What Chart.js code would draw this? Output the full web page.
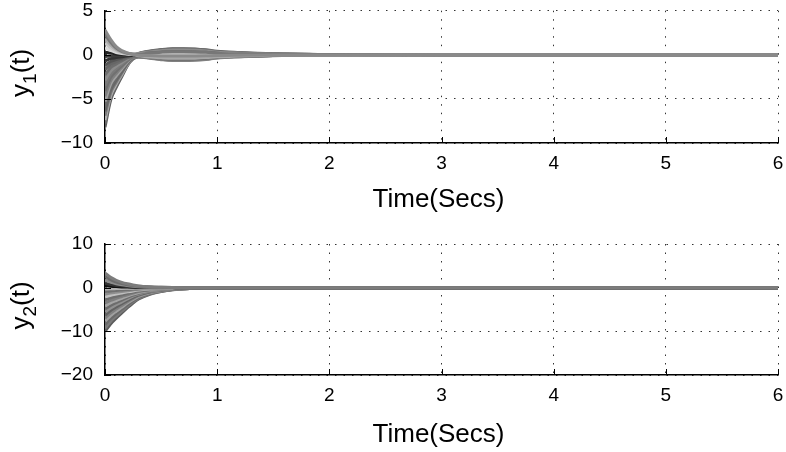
<!DOCTYPE html>
<html>
<head>
<meta charset="utf-8">
<script src="https://cdn.jsdelivr.net/npm/chart.js@4"></script>
<style>
  html, body { margin: 0; padding: 0; background: #fff; }
  .box { position: absolute; left: 0; width: 786px; height: 226px; }
  #top_box { top: 0; }
  #bottom_box { top: 226px; }
</style>
</head>
<body>
<div class="box" id="top_box"><canvas id="grafico_y1"></canvas></div>
<div class="box" id="bottom_box"><canvas id="grafico_y2"></canvas></div>
<script>
// time samples (secs), shared by every trajectory
var tempos = [0, 0.05, 0.1, 0.15, 0.2, 0.25, 0.3, 0.4, 0.5, 0.6, 0.7, 0.8, 0.9, 1.0, 1.2, 1.5, 2, 3, 6];

var ticks_x = [0, 1, 2, 3, 4, 5, 6];
var ticks_y1 = [5, 0, -5, -10];
var ticks_y2 = [10, 0, -10, -20];

// y1(t) trajectories
var y1_01 = [2.8, 1.74, 0.92, 0.48, 0.22, 0.07, -0.05, -0.09, -0.13, -0.15, -0.15, -0.14, -0.12, -0.08, -0.05, -0.02, -0.01, 0, 0];
var y1_02 = [2.3, 1.43, 0.76, 0.39, 0.18, 0.1, 0.1, 0.21, 0.3, 0.35, 0.35, 0.33, 0.28, 0.19, 0.12, 0.05, 0.02, 0, 0];
var y1_03 = [1.8, 1.12, 0.59, 0.31, 0.14, 0.01, -0.12, -0.24, -0.34, -0.4, -0.4, -0.38, -0.32, -0.22, -0.14, -0.06, -0.02, 0, 0];
var y1_04 = [1.3, 0.81, 0.43, 0.22, 0.1, 0.05, 0.05, 0.09, 0.13, 0.15, 0.15, 0.14, 0.12, 0.08, 0.05, 0.02, 0.01, 0, 0];
var y1_05 = [0.8, 0.5, 0.26, 0.14, 0.08, 0.04, 0.06, 0.12, 0.17, 0.2, 0.2, 0.19, 0.16, 0.11, 0.07, 0.03, 0.01, 0, 0];
var y1_06 = [0.3, 0.19, 0.1, 0.05, 0.01, -0.02, -0.08, -0.15, -0.21, -0.25, -0.25, -0.24, -0.2, -0.14, -0.09, -0.04, -0.01, 0, 0];
var y1_07 = [-0.2, -0.13, -0.09, -0.06, -0.03, 0, 0.01, 0.03, 0.04, 0.05, 0.05, 0.05, 0.04, 0.03, 0.02, 0.01, 0, 0, 0];
var y1_08 = [-0.7, -0.44, -0.32, -0.21, -0.11, -0.06, -0.07, -0.12, -0.17, -0.2, -0.2, -0.19, -0.16, -0.11, -0.07, -0.03, -0.01, 0, 0];
var y1_09 = [-1.2, -0.76, -0.54, -0.36, -0.18, -0.05, 0.03, 0.09, 0.13, 0.15, 0.15, 0.14, 0.12, 0.08, 0.05, 0.02, 0.01, 0, 0];
var y1_10 = [-1.7, -1.07, -0.77, -0.51, -0.26, -0.06, 0.09, 0.21, 0.3, 0.35, 0.35, 0.33, 0.28, 0.19, 0.12, 0.05, 0.02, 0, 0];
var y1_11 = [-2.3, -1.45, -1.04, -0.69, -0.35, -0.18, -0.17, -0.3, -0.43, -0.5, -0.5, -0.48, -0.4, -0.28, -0.18, -0.08, -0.03, 0, 0];
var y1_12 = [-2.9, -1.83, -1.31, -0.87, -0.44, -0.1, 0.14, 0.33, 0.47, 0.55, 0.55, 0.52, 0.44, 0.3, 0.19, 0.08, 0.03, 0, 0];
var y1_13 = [-3.5, -2.21, -1.58, -1.05, -0.53, -0.22, -0.13, -0.18, -0.26, -0.3, -0.3, -0.29, -0.24, -0.17, -0.11, -0.05, -0.02, 0, 0];
var y1_14 = [-4.1, -2.58, -1.85, -1.23, -0.62, -0.17, 0.14, 0.36, 0.51, 0.6, 0.6, 0.57, 0.48, 0.33, 0.21, 0.09, 0.03, 0, 0];
var y1_15 = [-4.7, -2.96, -2.12, -1.41, -0.71, -0.32, -0.24, -0.39, -0.55, -0.65, -0.65, -0.62, -0.52, -0.36, -0.23, -0.1, -0.03, 0, 0];
var y1_16 = [-5.3, -3.34, -2.39, -1.59, -0.8, -0.26, 0.04, 0.18, 0.26, 0.3, 0.3, 0.29, 0.24, 0.17, 0.11, 0.05, 0.02, 0, 0];
var y1_17 = [-5.9, -3.72, -2.66, -1.77, -0.89, -0.25, 0.15, 0.42, 0.6, 0.7, 0.7, 0.67, 0.56, 0.39, 0.25, 0.11, 0.04, 0, 0];
var y1_18 = [-6.4, -4.03, -2.88, -1.92, -0.96, -0.41, -0.24, -0.36, -0.51, -0.6, -0.6, -0.57, -0.48, -0.33, -0.21, -0.09, -0.03, 0, 0];
var y1_19 = [-6.9, -4.35, -3.11, -2.07, -1.04, -0.33, 0.08, 0.3, 0.43, 0.5, 0.5, 0.48, 0.4, 0.28, 0.18, 0.08, 0.03, 0, 0];
var y1_20 = [-7.4, -4.66, -3.33, -2.22, -1.11, -0.4, -0.04, 0.06, 0.09, 0.1, 0.1, 0.1, 0.08, 0.06, 0.04, 0.02, 0.01, 0, 0];
var y1_21 = [-7.8, -4.91, -3.51, -2.34, -1.17, -0.47, -0.21, -0.27, -0.38, -0.45, -0.45, -0.43, -0.36, -0.25, -0.16, -0.07, -0.02, 0, 0];
var y1_22 = [-8.2, -5.17, -3.69, -2.46, -1.23, -0.39, 0.11, 0.39, 0.55, 0.65, 0.65, 0.62, 0.52, 0.36, 0.23, 0.1, 0.03, 0, 0];

// y2(t) trajectories
var y2_01 = [3.4, 2.38, 1.7, 1.22, 0.88, 0.61, 0.41, 0.2, 0.1, 0.03, 0, 0, 0, 0, 0, 0, 0, 0, 0];
var y2_02 = [2.6, 1.82, 1.3, 0.94, 0.68, 0.47, 0.31, 0.16, 0.08, 0.03, 0, 0, 0, 0, 0, 0, 0, 0, 0];
var y2_03 = [1.8, 1.26, 0.9, 0.65, 0.47, 0.32, 0.22, 0.11, 0.05, 0.02, 0, 0, 0, 0, 0, 0, 0, 0, 0];
var y2_04 = [1.0, 0.7, 0.5, 0.36, 0.26, 0.18, 0.12, 0.06, 0.03, 0.01, 0, 0, 0, 0, 0, 0, 0, 0, 0];
var y2_05 = [0.5, 0.35, 0.25, 0.18, 0.13, 0.09, 0.06, 0.03, 0.02, 0.01, 0, 0, 0, 0, 0, 0, 0, 0, 0];
var y2_06 = [-0.3, -0.25, -0.21, -0.17, -0.14, -0.11, -0.08, -0.05, -0.03, -0.02, -0.01, 0, 0, 0, 0, 0, 0, 0, 0];
var y2_07 = [-0.9, -0.75, -0.63, -0.52, -0.41, -0.32, -0.23, -0.14, -0.08, -0.05, -0.03, -0.01, -0.01, 0, 0, 0, 0, 0, 0];
var y2_08 = [-1.5, -1.25, -1.05, -0.87, -0.69, -0.53, -0.39, -0.23, -0.14, -0.08, -0.05, -0.02, -0.01, -0.01, 0, 0, 0, 0, 0];
var y2_09 = [-2.1, -1.74, -1.47, -1.22, -0.97, -0.74, -0.55, -0.32, -0.19, -0.11, -0.06, -0.03, -0.02, -0.01, 0, 0, 0, 0, 0];
var y2_10 = [-2.8, -2.32, -1.96, -1.62, -1.29, -0.98, -0.73, -0.42, -0.25, -0.14, -0.08, -0.04, -0.02, -0.01, 0, 0, 0, 0, 0];
var y2_11 = [-3.5, -2.91, -2.45, -2.03, -1.61, -1.23, -0.91, -0.53, -0.32, -0.18, -0.11, -0.05, -0.03, -0.01, 0, 0, 0, 0, 0];
var y2_12 = [-4.2, -3.49, -2.94, -2.44, -1.93, -1.47, -1.09, -0.63, -0.38, -0.21, -0.13, -0.06, -0.03, -0.02, 0, 0, 0, 0, 0];
var y2_13 = [-4.9, -4.07, -3.43, -2.84, -2.25, -1.72, -1.27, -0.74, -0.44, -0.25, -0.15, -0.07, -0.04, -0.02, 0, 0, 0, 0, 0];
var y2_14 = [-5.6, -4.65, -3.92, -3.25, -2.58, -1.96, -1.46, -0.84, -0.5, -0.28, -0.17, -0.08, -0.04, -0.02, 0, 0, 0, 0, 0];
var y2_15 = [-6.3, -5.23, -4.41, -3.65, -2.9, -2.21, -1.64, -0.95, -0.57, -0.32, -0.19, -0.09, -0.05, -0.03, 0, 0, 0, 0, 0];
var y2_16 = [-7.0, -5.81, -4.9, -4.06, -3.22, -2.45, -1.82, -1.05, -0.63, -0.35, -0.21, -0.11, -0.06, -0.03, 0, 0, 0, 0, 0];
var y2_17 = [-7.7, -6.39, -5.39, -4.47, -3.54, -2.7, -2.0, -1.16, -0.69, -0.39, -0.23, -0.12, -0.06, -0.03, 0, 0, 0, 0, 0];
var y2_18 = [-8.5, -7.06, -5.95, -4.93, -3.91, -2.98, -2.21, -1.28, -0.77, -0.43, -0.26, -0.13, -0.07, -0.03, 0, 0, 0, 0, 0];
var y2_19 = [-9.3, -7.72, -6.51, -5.39, -4.28, -3.26, -2.42, -1.4, -0.84, -0.47, -0.28, -0.14, -0.07, -0.04, 0, 0, 0, 0, 0];
var y2_20 = [-10, -8.3, -7.0, -5.8, -4.6, -3.5, -2.6, -1.5, -0.9, -0.5, -0.3, -0.15, -0.08, -0.04, 0, 0, 0, 0, 0];

var series_y1 = [y1_01, y1_02, y1_03, y1_04, y1_05, y1_06, y1_07, y1_08, y1_09, y1_10, y1_11,
  y1_12, y1_13, y1_14, y1_15, y1_16, y1_17, y1_18, y1_19, y1_20, y1_21, y1_22];
var series_y2 = [y2_01, y2_02, y2_03, y2_04, y2_05, y2_06, y2_07, y2_08, y2_09, y2_10,
  y2_11, y2_12, y2_13, y2_14, y2_15, y2_16, y2_17, y2_18, y2_19, y2_20];

var cores_y1 = ["#8a8a8a", "#777777", "#a8a8a8", "#c4c4c4", "#d8d8d8", "#222222", "#3c3c3c", "#333333",
  "#555555", "#666666", "#6e6e6e", "#8c8c8c", "#7a7a7a", "#707070", "#808080", "#a0a0a0",
  "#6a6a6a", "#666666", "#7c7c7c", "#b0b0b0", "#6c6c6c", "#5c5c5c"];
var cores_y2 = ["#7c7c7c", "#6c6c6c", "#8c8c8c", "#333333", "#111111", "#b4b4b4", "#707070", "#8e8e8e",
  "#c0c0c0", "#6e6e6e", "#7e7e7e", "#a4a4a4", "#6c6c6c", "#909090", "#626262", "#808080",
  "#a0a0a0", "#6a6a6a", "#7a7a7a", "#5c5c5c"];

var fonte = "'Liberation Sans', Arial, Helvetica, sans-serif";

function montarDatasets(series, cores) {
  var lista = [];
  for (var i = 0; i < series.length; i++) {
    var pontos = [];
    for (var j = 0; j < tempos.length; j++) {
      pontos.push({ x: tempos[j], y: series[i][j] });
    }
    lista.push({
      data: pontos,
      borderColor: cores[i],
      borderWidth: 3,
      pointRadius: 0,
      cubicInterpolationMode: "monotone",
      fill: false,
    });
  }
  return lista;
}

// axis titles (with subscript) and inward tick marks, like the original figure
var rotulos = {
  id: "rotulos",
  afterDraw: function (chart, args, opts) {
    var ctx = chart.ctx;
    var area = chart.chartArea;
    var sx = chart.scales.x;
    var sy = chart.scales.y;

    ctx.save();
    ctx.strokeStyle = "#000";
    ctx.lineWidth = 1;
    ctx.beginPath();
    for (var i = 0; i < ticks_x.length; i++) {
      var px = Math.round(sx.getPixelForValue(ticks_x[i])) + 0.5;
      ctx.moveTo(px, area.bottom);
      ctx.lineTo(px, area.bottom - 6);
    }
    for (var k = 0; k < opts.ticksY.length; k++) {
      var py = Math.round(sy.getPixelForValue(opts.ticksY[k])) + 0.5;
      ctx.moveTo(area.left, py);
      ctx.lineTo(area.left + 6, py);
    }
    ctx.stroke();

    ctx.fillStyle = "#000";
    ctx.font = "26px " + fonte;
    ctx.textAlign = "center";
    ctx.textBaseline = "middle";
    ctx.fillText("Time(Secs)", (area.left + area.right) / 2 - 3, opts.xTituloY);

    ctx.translate(opts.yTituloX, (area.top + area.bottom) / 2 - 4);
    ctx.rotate(-Math.PI / 2);
    ctx.textAlign = "left";
    ctx.textBaseline = "alphabetic";
    ctx.font = "26px " + fonte;
    var w1 = ctx.measureText("y").width;
    var w3 = ctx.measureText("(t)").width;
    ctx.font = "19px " + fonte;
    var w2 = ctx.measureText(opts.sub).width;
    var x0 = -(w1 + w2 + w3) / 2;
    ctx.font = "26px " + fonte;
    ctx.fillText("y", x0, 0);
    ctx.font = "19px " + fonte;
    ctx.fillText(opts.sub, x0 + w1, 7);
    ctx.font = "26px " + fonte;
    ctx.fillText("(t)", x0 + w1 + w2, 0);
    ctx.restore();
  },
};

function criarGrafico(id, series, cores, ymin, ymax, passo, ticksY, sub, padTopo, alturaX, xTituloY) {
  var ctx = document.getElementById(id);
  return new Chart(ctx, {
    type: "line",
    data: { datasets: montarDatasets(series, cores) },
    plugins: [rotulos],
    options: {
      responsive: true,
      maintainAspectRatio: false,
      animation: false,
      layout: { padding: { top: padTopo, right: 8, left: 0, bottom: 0 } },
      plugins: {
        legend: { display: false },
        tooltip: { enabled: false },
        rotulos: { ticksY: ticksY, sub: sub, xTituloY: xTituloY, yTituloX: 29 },
      },
      scales: {
        x: {
          type: "linear",
          min: 0,
          max: 6,
          afterFit: function (s) {
            s.height = alturaX;
            s.paddingLeft = 0;
            s.paddingRight = 0;
          },
          ticks: {
            stepSize: 1,
            padding: 9,
            color: "#000",
            font: { family: fonte, size: 19 },
          },
          grid: { color: "#333", lineWidth: 1, drawTicks: false },
          border: { color: "#000", width: 1.5, dash: [1.5, 7] },
        },
        y: {
          min: ymin,
          max: ymax,
          afterFit: function (s) {
            s.width = 105;
            s.paddingTop = 0;
            s.paddingBottom = 0;
          },
          ticks: {
            stepSize: passo,
            padding: 12,
            color: "#000",
            font: { family: fonte, size: 19 },
            callback: function (v) { return String(v).replace("-", "\u2212"); },
          },
          grid: { color: "#333", lineWidth: 1, drawTicks: false },
          border: { color: "#000", width: 1.5, dash: [1.5, 7] },
        },
      },
    },
  });
}

var grafico_y1 = criarGrafico("grafico_y1", series_y1, cores_y1, -10, 5, 5, ticks_y1, "1", 10.7, 83, 200);
var grafico_y2 = criarGrafico("grafico_y2", series_y2, cores_y2, -20, 10, 10, ticks_y2, "2", 18, 77, 209);
</script>
</body>
</html>
